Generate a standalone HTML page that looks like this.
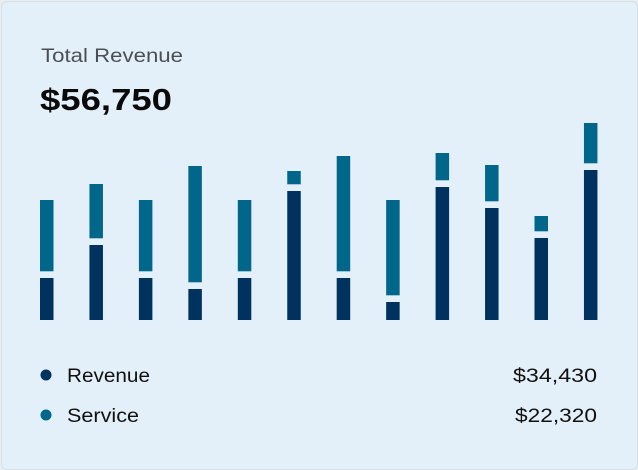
<!DOCTYPE html>
<html><head><meta charset="utf-8"><style>
html,body{margin:0;padding:0;background:#e9eef2;}
#card{position:absolute;left:1px;top:1px;width:635px;height:467px;background:#e4f0f9;border:1px solid #d6dfe6;border-radius:6px;font-family:"Liberation Sans",sans-serif;}
</style></head><body>
<div id="card">
<svg width="638" height="470" style="position:absolute;left:-2px;top:-2px">
<text x="41" y="62" font-size="19" fill="#4a4f55" textLength="142" lengthAdjust="spacingAndGlyphs" font-family="Liberation Sans, sans-serif">Total Revenue</text>
<text x="40" y="110" font-size="31" font-weight="bold" fill="#0a0a0a" textLength="132" lengthAdjust="spacingAndGlyphs" font-family="Liberation Sans, sans-serif">$56,750</text>
<g id="bars"></g>
<circle cx="46" cy="375" r="5.5" fill="#00325f"/>
<text x="67" y="382" font-size="19" fill="#111" textLength="83" lengthAdjust="spacingAndGlyphs" font-family="Liberation Sans, sans-serif">Revenue</text>
<text x="513" y="382" font-size="19" fill="#111" textLength="84" lengthAdjust="spacingAndGlyphs" font-family="Liberation Sans, sans-serif">$34,430</text>
<circle cx="46" cy="415" r="5.5" fill="#00678a"/>
<text x="67" y="422" font-size="19" fill="#111" textLength="72" lengthAdjust="spacingAndGlyphs" font-family="Liberation Sans, sans-serif">Service</text>
<text x="515" y="422" font-size="19" fill="#111" textLength="82" lengthAdjust="spacingAndGlyphs" font-family="Liberation Sans, sans-serif">$22,320</text>
</svg>
</div>
<script>
const categories = ["1","2","3","4","5","6","7","8","9","10","11","12"];
const revenue = [42, 75, 42, 31, 42, 129, 42, 18, 133, 112, 82, 150];
const service = [78, 61, 78, 123, 78, 20, 122, 102, 34, 43, 22, 47];
const yMax = 200;
const baseY = 320, plotH = 200, x0 = 40, step = 49.45, bw = 13.5, gap = 6.7;
function y(v){ return baseY - v / yMax * plotH; }
function x(i){ return x0 + i * step; }
const g = document.getElementById('bars');
const ns = 'http://www.w3.org/2000/svg';
categories.forEach((c, i) => {
  const r = document.createElementNS(ns, 'rect');
  r.setAttribute('x', x(i)); r.setAttribute('width', bw);
  r.setAttribute('y', y(revenue[i])); r.setAttribute('height', baseY - y(revenue[i]));
  r.setAttribute('fill', '#00325f');
  
  
  g.appendChild(r);
  const s = document.createElementNS(ns, 'rect');
  const top = y(revenue[i] + service[i]);
  const bot = y(revenue[i]) - gap;
  s.setAttribute('x', x(i)); s.setAttribute('width', bw);
  s.setAttribute('y', top); s.setAttribute('height', Math.max(0, bot - top));
  s.setAttribute('fill', '#00678a');
  
  
  g.appendChild(s);
});
</script>
</body></html>
